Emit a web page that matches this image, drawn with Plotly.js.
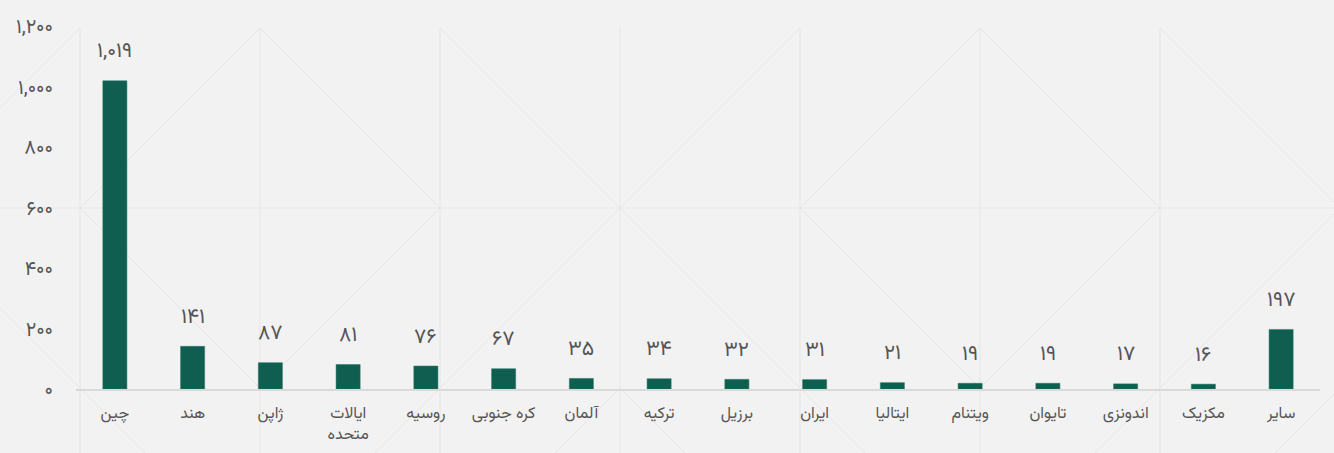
<!DOCTYPE html>
<html>
<head>
<meta charset="utf-8">
<script src="https://cdn.plot.ly/plotly-3.0.1.min.js"></script>
<style>
  html, body { margin:0; padding:0; background:#f2f2f2; }
  #bg { position:absolute; left:0; top:0; z-index:0; }
  #chart { position:absolute; left:0; top:0; width:1334px; height:453px; z-index:1; }
</style>
</head>
<body>
<svg id="bg" width="1334" height="453"></svg>
<div id="chart"></div>
<script>
// ---- data ----
const countries = ["چین","هند","ژاپن","ایالات<br>متحده","روسیه","کره جنوبی","آلمان","ترکیه","برزیل","ایران","ایتالیا","ویتنام","تایوان","اندونزی","مکزیک","سایر"];
const production = [1019,141,87,81,76,67,35,34,32,31,21,19,19,17,16,197];
const yTickVals = [0,200,400,600,800,1000,1200];

// ---- helpers ----
function fa(n){
  const s = n.toString().replace(/\B(?=(\d{3})+(?!\d))/g, ",");
  return s.replace(/\d/g, d => "۰۱۲۳۴۵۶۷۸۹"[+d]);
}

// ---- decorative background pattern ----
(function(){
  const svg = document.getElementById('bg');
  const ns = "http://www.w3.org/2000/svg";
  const col = "#e6e6e6";
  function line(x1,y1,x2,y2){
    const l = document.createElementNS(ns,'line');
    l.setAttribute('x1',x1);l.setAttribute('y1',y1);l.setAttribute('x2',x2);l.setAttribute('y2',y2);
    l.setAttribute('stroke',col);l.setAttribute('stroke-width','1');
    svg.appendChild(l);
  }
  const S = 360, x0 = -280, y0 = 28;
  for (let r=0; r<2; r++){
    for (let c=0; c<6; c++){
      const x = x0 + c*S, y = y0 + r*S;
      const cross = ((c + r) % 2 === 0);
      if (cross){
        line(x,y,x+S,y+S); line(x+S,y,x,y+S);
      } else {
        line(x+S/2,y,x+S,y+S/2); line(x+S,y+S/2,x+S/2,y+S);
        line(x+S/2,y+S,x,y+S/2); line(x,y+S/2,x+S/2,y);
      }
    }
  }
  for (let x=80; x<1334; x+=180) line(x,28,x,453);
  line(0,208,1334,208);
})();

// ---- chart ----
const fontFam = "Vazirmatn, 'Noto Sans Arabic', 'DejaVu Sans', sans-serif";
const trace = {
  type:'bar',
  x: countries,
  y: production,
  marker:{color:'#0f5e4f', line:{color:'#2a7a6a', width:0.5}},
  width:0.31,
  hoverinfo:'x+y'
};
const annotations = countries.map((c,i)=>({
  x:c, y:production[i], xref:'x', yref:'y',
  text: fa(production[i]), showarrow:false,
  yanchor:'middle', yshift:29,
  font:{family:fontFam, size:21, color:'#555555'}
}));
const layout = {
  width:1334, height:453,
  margin:{l:76, r:14, t:26, b:64},
  paper_bgcolor:'rgba(0,0,0,0)',
  plot_bgcolor:'rgba(0,0,0,0)',
  showlegend:false,
  font:{family:fontFam, color:'#555555'},
  xaxis:{
    type:'category',
    showline:true, linecolor:'#d9d9d9', linewidth:2,
    showgrid:false, zeroline:false,
    ticks:'outside', ticklen:8, tickcolor:'rgba(0,0,0,0)',
    tickfont:{family:fontFam, size:16, color:'#555555'},
    fixedrange:true
  },
  yaxis:{
    range:[0,1200],
    tickvals:yTickVals,
    ticktext:yTickVals.map(fa),
    showgrid:false, zeroline:false, showline:false,
    ticks:'', ticklabelstandoff:22,
    tickfont:{family:fontFam, size:20, color:'#555555'},
    fixedrange:true
  },
  annotations: annotations
};
Plotly.newPlot('chart',[trace],layout,{displayModeBar:false, staticPlot:true});
</script>
</body>
</html>
